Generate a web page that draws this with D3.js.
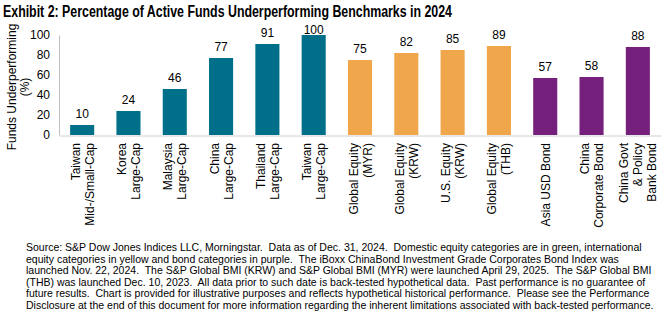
<!DOCTYPE html>
<html><head><meta charset="utf-8">
<script src="https://cdn.jsdelivr.net/npm/d3@7"></script>
<style>body{margin:0;background:#fff}svg{display:block}</style>
</head><body>
<script>
const categories = [
  ["Taiwan","Mid-/Small-Cap"],["Korea","Large-Cap"],["Malaysia","Large-Cap"],["China","Large-Cap"],
  ["Thailand","Large-Cap"],["Taiwan","Large-Cap"],["Global Equity","(MYR)"],["Global Equity","(KRW)"],
  ["U.S. Equity","(KRW)"],["Global Equity","(THB)"],["Asia USD Bond"],["China","Corporate Bond"],
  ["China Govt","& Policy","Bank Bond"]
];
const values = [10,24,46,77,91,100,75,82,85,89,57,58,88];
const groups = ["domestic","domestic","domestic","domestic","domestic","domestic","intl","intl","intl","intl","bond","bond","bond"];
const groupColors = {domestic:"#00708A", intl:"#F0A64A", bond:"#75207D"};
const yTicks = [0,20,40,60,80,100];
const title = "Exhibit 2: Percentage of Active Funds Underperforming Benchmarks in 2024";
const yLabel = ["Funds Underperforming","(%)"];
const footnote = [
  "Source: S&P Dow Jones Indices LLC, Morningstar.  Data as of Dec. 31, 2024.  Domestic equity categories are in green, international",
  "equity categories in yellow and bond categories in purple.  The iBoxx ChinaBond Investment Grade Corporates Bond Index was",
  "launched Nov. 22, 2024.  The S&P Global BMI (KRW) and S&P Global BMI (MYR) were launched April 29, 2025.  The S&P Global BMI",
  "(THB) was launched Dec. 10, 2023.  All data prior to such date is back-tested hypothetical data.  Past performance is no guarantee of",
  "future results.  Chart is provided for illustrative purposes and reflects hypothetical historical performance.  Please see the Performance",
  "Disclosure at the end of this document for more information regarding the inherent limitations associated with back-tested performance."
];

const W = 671, H = 322;
const svg = d3.select("body").append("svg").attr("width", W).attr("height", H)
  .style("font-family", "'Liberation Sans', Arial, sans-serif");

svg.append("text").attr("x", 3).attr("y", 17)
  .style("font-weight", "bold").style("font-size", "16px").attr("fill", "#000")
  .attr("textLength", 449).attr("lengthAdjust", "spacingAndGlyphs")
  .text(title);

const x = d3.scaleBand().domain(d3.range(values.length)).range([59, 661]).paddingInner(0.48).paddingOuter(0.24);
const y = d3.scaleLinear().domain([0, 100]).range([135, 35]);

// bars
svg.append("g").selectAll("rect").data(values).join("rect")
  .attr("x", (d, i) => x(i)).attr("width", x.bandwidth())
  .attr("y", d => y(d)).attr("height", d => y(0) - y(d))
  .attr("fill", (d, i) => groupColors[groups[i]]);

// value labels
svg.append("g").selectAll("text").data(values).join("text")
  .attr("x", (d, i) => x(i) + x.bandwidth() / 2).attr("y", d => Math.max(y(d) - 7.5, y(100) - 1))
  .attr("text-anchor", "middle").style("font-size", "12px").attr("fill", "#000")
  .text(d => d);

// y axis
const yAxis = svg.append("g").attr("transform", "translate(59,0)")
  .call(d3.axisLeft(y).tickValues(yTicks).tickSize(0).tickPadding(9));
yAxis.select(".domain").attr("stroke", "#bfbfbf");
yAxis.selectAll("text").style("font-size", "12px").style("font-family", "'Liberation Sans', Arial, sans-serif").attr("fill", "#000");

// x axis
const xAxis = svg.append("g").attr("transform", "translate(0,135.5)")
  .call(d3.axisBottom(x).tickSize(0).tickFormat(""));
xAxis.select(".domain").attr("stroke", "#d0d0d0");

// category labels
const catG = svg.append("g").selectAll("g").data(categories).join("g")
  .attr("transform", (d, i) => `translate(${x(i) + x.bandwidth() / 2},143) rotate(-90)`);
catG.each(function(lines) {
  const n = lines.length;
  const g = d3.select(this);
  lines.forEach((t, k) => {
    g.append("text").attr("x", 0).attr("y", (k - (n - 1) / 2) * 14 + 4.5)
      .attr("text-anchor", "end").style("font-size", "12px").attr("fill", "#000").text(t);
  });
});

// y label
const yl = svg.append("g").attr("transform", "translate(18,87) rotate(-90)");
yLabel.forEach((t, k) => {
  yl.append("text").attr("x", 0).attr("y", k * 13 - 2).attr("text-anchor", "middle")
    .style("font-size", "12px").attr("fill", "#000").text(t);
});

// footnote
svg.append("g").selectAll("text").data(footnote).join("text")
  .attr("x", 26).attr("y", (d, i) => 251 + i * 11.6)
  .style("font-size", "10.5px").style("white-space", "pre").attr("fill", "#000")
  .text(d => d);
</script>
</body></html>
